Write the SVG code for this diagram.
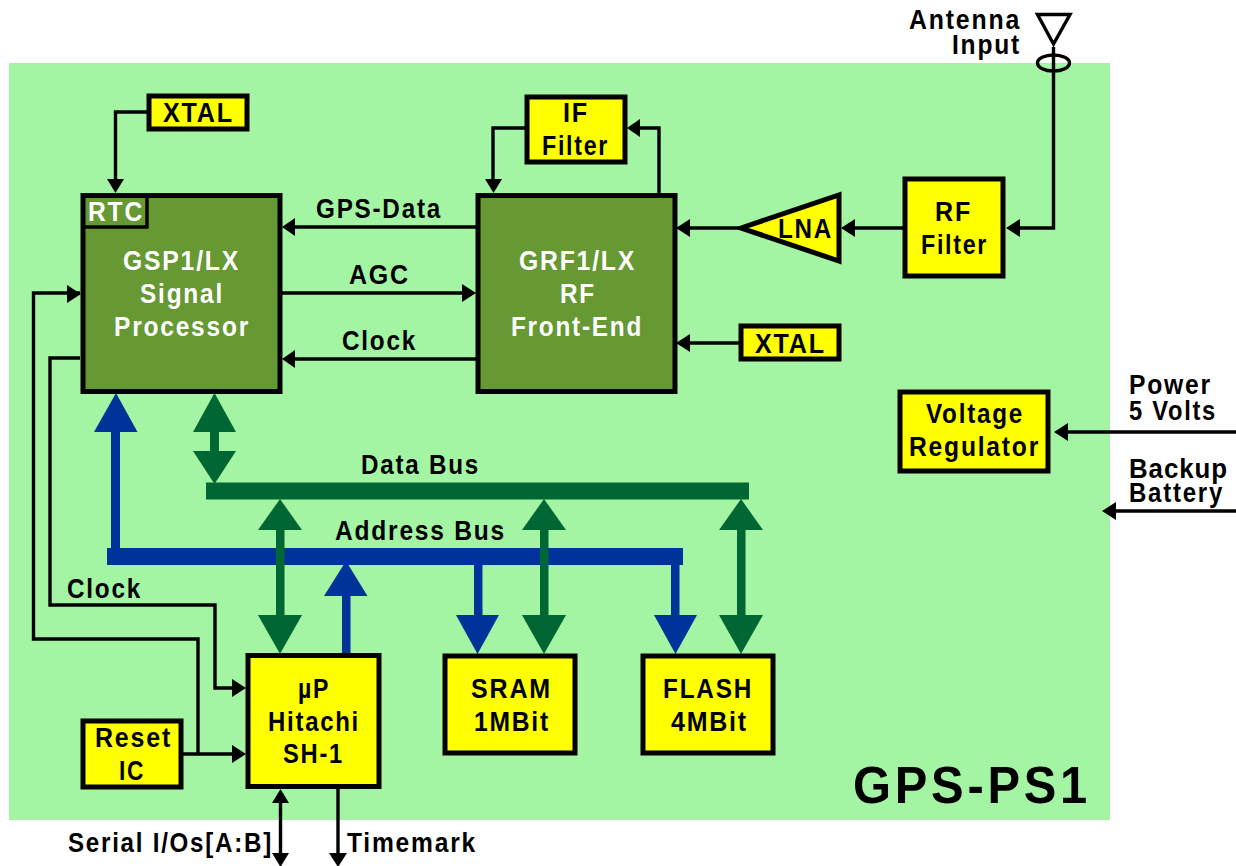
<svg xmlns="http://www.w3.org/2000/svg" width="1236" height="866" viewBox="0 0 1236 866">
<style>
text{font-family:"Liberation Sans",Arial,sans-serif;font-weight:700;font-size:27.500px;letter-spacing:2px;fill:#000}
.w{fill:#fff}
.y{fill:#ff0;stroke:#000;stroke-width:5}
.g{fill:#669933;stroke:#000;stroke-width:5}
.l{fill:none;stroke:#000;stroke-width:3.400}
.a{fill:#000}
.gb{fill:#006633}.bb{fill:#003399}
</style>
<rect x="9" y="63" width="1101" height="757" fill="#a3f5a3"/>
<g id="connectors">
<path class="l" d="M147 112H115.500V180"/><path class="a" d="M107 179H124L115.500 193Z"/>
<path class="l" d="M477 227H295"/><path class="a" d="M295 218V236L282 227Z"/>
<path class="l" d="M282 293H463"/><path class="a" d="M462 284V302L476 293Z"/>
<path class="l" d="M477 359H295"/><path class="a" d="M295 350V368L282 359Z"/>
<path class="l" d="M80 293H33.500V639H198V754"/><path class="a" d="M67 285V303L81 294Z"/>
<path class="l" d="M80 358H50V605H215V688H232"/><path class="a" d="M232 679V697L246 688Z"/>
<path class="l" d="M182 754H232"/><path class="a" d="M232 745V763L246 754Z"/>
<path class="l" d="M659 193V128H640"/><path class="a" d="M640 119V137L627 128Z"/>
<path class="l" d="M525 128H493V180"/><path class="a" d="M485 179H502L493.500 193Z"/>
<path class="l" d="M739 228H690"/><path class="a" d="M690 219V237L676 228Z"/>
<path class="l" d="M904 228H855"/><path class="a" d="M855 219V237L841 228Z"/>
<path class="l" d="M739 343H690"/><path class="a" d="M690 334V352L676 343Z"/>
<path class="l" d="M1053.500 47V228H1020"/><path class="a" d="M1020 219V237L1006 228Z"/>
<path class="l" d="M1236 432H1068"/><path class="a" d="M1068 423V441L1054 432Z"/>
<path class="l" d="M1236 511H1116"/><path class="a" d="M1116 502V520L1102 511Z"/>
<path class="l" d="M280.500 800V855"/><path class="a" d="M272 803H289L280.500 789Z"/><path class="a" d="M272 853H289L280.500 867Z"/>
<path class="l" d="M338 789V855"/><path class="a" d="M329 853H347L338 867Z"/>
<rect class="gb" x="206" y="482.500" width="543" height="17"/>
<rect class="bb" x="107" y="548" width="576" height="17"/>
<rect class="bb" x="111" y="430" width="9" height="120"/><path class="bb" d="M94 432H137.500L116 393Z"/>
<rect class="gb" x="210" y="430" width="9" height="30"/><path class="gb" d="M193 432H236L214.500 393Z"/><path class="gb" d="M193 451H236L214.500 484Z"/>
<rect class="gb" x="276" y="530" width="8.500" height="90"/><path class="gb" d="M258 530H302L280 499Z"/><path class="gb" d="M258 615H302L280 654Z"/>
<rect class="bb" x="342" y="595" width="8.500" height="60"/><path class="bb" d="M324 596H367.500L346 561Z"/>
<rect class="bb" x="474" y="562" width="8.500" height="55"/><path class="bb" d="M456 615H499L477.500 654Z"/>
<rect class="gb" x="540" y="530" width="8.500" height="90"/><path class="gb" d="M522 530H566L544 499Z"/><path class="gb" d="M522 615H566L544 654Z"/>
<rect class="bb" x="671" y="562" width="8.500" height="55"/><path class="bb" d="M654 615H697L675.500 654Z"/>
<rect class="gb" x="737" y="530" width="8.500" height="90"/><path class="gb" d="M719 530H763L741 499Z"/><path class="gb" d="M719 615H763L741 654Z"/>
</g>
<g id="antenna">
<path d="M1037.500 14.500H1070L1053.500 44Z" fill="none" stroke="#000" stroke-width="3.400"/>
<ellipse cx="1053.500" cy="63" rx="16" ry="8" fill="none" stroke="#000" stroke-width="3.400"/>
<text x="909" y="29" textLength="112" lengthAdjust="spacingAndGlyphs">Antenna</text><text x="952" y="54" textLength="69" lengthAdjust="spacingAndGlyphs">Input</text>
</g>
<g id="gsp"><rect class="g" x="83" y="195.500" width="197" height="196"/>
<path d="M83 195H147V227H83Z" fill="none" stroke="#000" stroke-width="3.400"/>
<text class="w" x="88" y="221" textLength="56" lengthAdjust="spacingAndGlyphs">RTC</text>
<text class="w" x="123" y="270" textLength="117" lengthAdjust="spacingAndGlyphs">GSP1/LX</text><text class="w" x="140" y="303" textLength="84" lengthAdjust="spacingAndGlyphs">Signal</text><text class="w" x="114" y="336" textLength="136" lengthAdjust="spacingAndGlyphs">Processor</text></g>
<g id="grf"><rect class="g" x="478" y="195.500" width="197" height="196"/>
<text class="w" x="519" y="270" textLength="117" lengthAdjust="spacingAndGlyphs">GRF1/LX</text><text class="w" x="560" y="303" textLength="36" lengthAdjust="spacingAndGlyphs">RF</text><text class="w" x="511" y="336" textLength="132" lengthAdjust="spacingAndGlyphs">Front-End</text></g>
<g id="xtal1"><rect class="y" x="149" y="96" width="98" height="33"/><text x="163" y="122" textLength="71" lengthAdjust="spacingAndGlyphs">XTAL</text></g>
<g id="xtal2"><rect class="y" x="741" y="326" width="98" height="33"/><text x="755" y="353" textLength="71" lengthAdjust="spacingAndGlyphs">XTAL</text></g>
<g id="if"><rect class="y" x="527" y="97" width="98" height="65"/><text x="563" y="122" textLength="26" lengthAdjust="spacingAndGlyphs">IF</text><text x="542" y="155" textLength="67" lengthAdjust="spacingAndGlyphs">Filter</text></g>
<g id="lna"><path d="M741 228L839 195V261Z" fill="#ff0" stroke="#000" stroke-width="5"/><text x="778" y="238" textLength="55" lengthAdjust="spacingAndGlyphs">LNA</text></g>
<g id="rf"><rect class="y" x="905" y="179" width="98" height="97"/><text x="935" y="221" textLength="37" lengthAdjust="spacingAndGlyphs">RF</text><text x="921" y="254" textLength="67" lengthAdjust="spacingAndGlyphs">Filter</text></g>
<g id="vreg"><rect class="y" x="900" y="392" width="148" height="79"/><text x="926" y="423" textLength="98" lengthAdjust="spacingAndGlyphs">Voltage</text><text x="909" y="456" textLength="131" lengthAdjust="spacingAndGlyphs">Regulator</text></g>
<g id="up"><rect class="y" x="248" y="655.500" width="131" height="131"/><text x="298" y="698" textLength="32" lengthAdjust="spacingAndGlyphs">µP</text><text x="268" y="731" textLength="92" lengthAdjust="spacingAndGlyphs">Hitachi</text><text x="283" y="763" textLength="61" lengthAdjust="spacingAndGlyphs">SH-1</text></g>
<g id="sram"><rect class="y" x="445" y="656" width="130" height="97"/><text x="471" y="698" textLength="81" lengthAdjust="spacingAndGlyphs">SRAM</text><text x="474" y="731" textLength="76" lengthAdjust="spacingAndGlyphs">1MBit</text></g>
<g id="flash"><rect class="y" x="643" y="656" width="130" height="97"/><text x="663" y="698" textLength="90" lengthAdjust="spacingAndGlyphs">FLASH</text><text x="671" y="731" textLength="77" lengthAdjust="spacingAndGlyphs">4MBit</text></g>
<g id="reset"><rect class="y" x="83" y="721" width="98" height="66"/><text x="95" y="747" textLength="77" lengthAdjust="spacingAndGlyphs">Reset</text><text x="119" y="780" textLength="26" lengthAdjust="spacingAndGlyphs">IC</text></g>
<g id="labels">
<text x="316" y="218" textLength="126" lengthAdjust="spacingAndGlyphs">GPS-Data</text>
<text x="349" y="284" textLength="61" lengthAdjust="spacingAndGlyphs">AGC</text>
<text x="342" y="350" textLength="75" lengthAdjust="spacingAndGlyphs">Clock</text>
<text x="361" y="474" textLength="119" lengthAdjust="spacingAndGlyphs">Data Bus</text>
<text x="335" y="540" textLength="171" lengthAdjust="spacingAndGlyphs">Address Bus</text>
<text x="67" y="598" textLength="75" lengthAdjust="spacingAndGlyphs">Clock</text>
<text x="1129" y="394" textLength="83" lengthAdjust="spacingAndGlyphs">Power</text><text x="1129" y="420" textLength="88" lengthAdjust="spacingAndGlyphs">5 Volts</text>
<text x="1129" y="478" textLength="99" lengthAdjust="spacingAndGlyphs" style="letter-spacing:1px">Backup</text><text x="1129" y="502" textLength="95" lengthAdjust="spacingAndGlyphs">Battery</text>
<text x="68" y="852" textLength="205" lengthAdjust="spacingAndGlyphs">Serial I/Os[A:B]</text>
<text x="347" y="852" textLength="130" lengthAdjust="spacingAndGlyphs">Timemark</text>
<text x="853" y="803" textLength="238" lengthAdjust="spacingAndGlyphs" style="font-size:52px;letter-spacing:4px">GPS-PS1</text>
</g>
</svg>
